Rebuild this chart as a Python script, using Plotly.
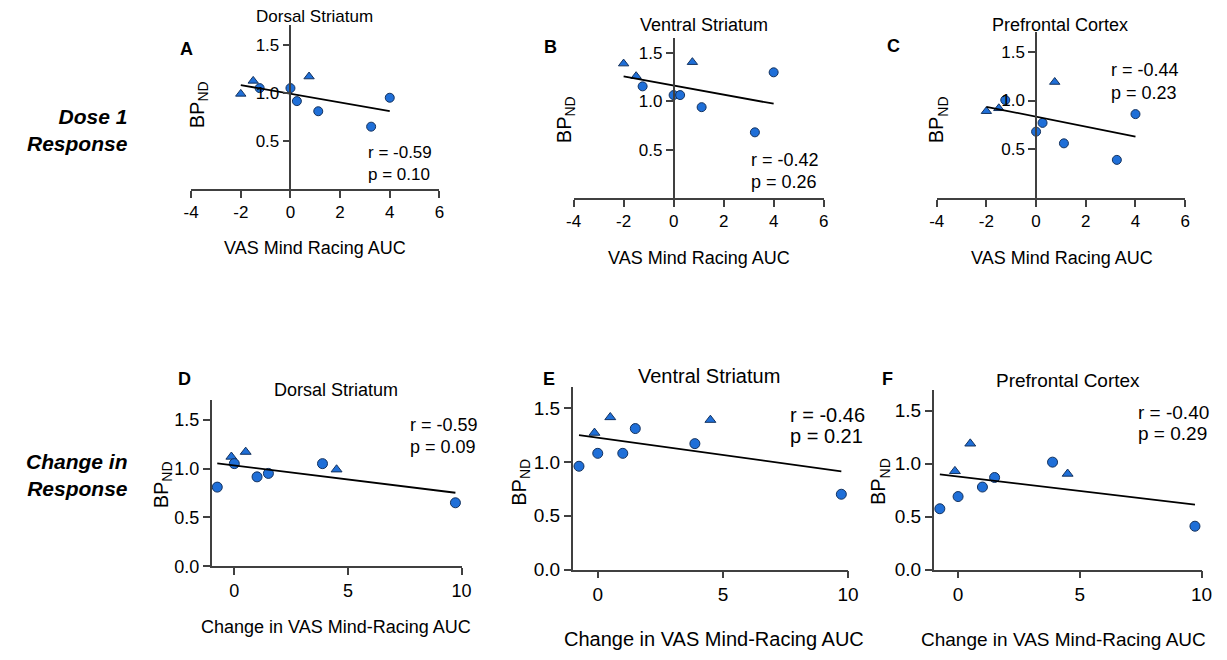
import numpy as np
import plotly.graph_objects as go

FONT = "Liberation Sans, Arial, Helvetica, sans-serif"
W, H = 1227, 660

# ---------------- data ----------------
# Top row: Dose 1 response (x = VAS Mind Racing AUC)
x_dose1 = [-2.0, -1.5, -1.24, 0.0, 0.26, 0.75, 1.12, 3.25, 4.0]
sym_dose1 = ["triangle-up", "triangle-up", "circle", "circle", "circle",
             "triangle-up", "circle", "circle", "circle"]
bp_dorsal_dose1 = [0.99, 1.125, 1.05, 1.05, 0.915, 1.17, 0.81, 0.65, 0.95]
bp_ventral_dose1 = [1.39, 1.26, 1.155, 1.065, 1.065, 1.405, 0.94, 0.68, 1.30]
bp_pfc_dose1 = [0.89, 0.92, 1.005, 0.68, 0.77, 1.19, 0.56, 0.39, 0.86]

# Bottom row: change in response (x = Change in VAS Mind-Racing AUC)
x_change = [-0.75, -0.13, 0.0, 0.5, 1.0, 1.5, 3.88, 4.5, 9.73]
sym_change = ["circle", "triangle-up", "circle", "triangle-up", "circle",
              "circle", "circle", "triangle-up", "circle"]
bp_dorsal_change = [0.81, 1.12, 1.05, 1.17, 0.915, 0.95, 1.05, 0.99, 0.65]
bp_ventral_change = [0.96, 1.27, 1.08, 1.415, 1.08, 1.31, 1.17, 1.39, 0.70]
bp_pfc_change = [0.575, 0.93, 0.69, 1.19, 0.78, 0.87, 1.015, 0.905, 0.41]

region_titles = ["Dorsal Striatum", "Ventral Striatum", "Prefrontal Cortex"]
panel_letters = ["A", "B", "C", "D", "E", "F"]
stats_r = ["r = -0.59", "r = -0.42", "r = -0.44", "r = -0.59", "r = -0.46", "r = -0.40"]
stats_p = ["p = 0.10", "p = 0.26", "p = 0.23", "p = 0.09", "p = 0.21", "p = 0.29"]
top_xticks = [-4, -2, 0, 2, 4, 6]
top_xticktext = ["-4", "-2", "0", "2", "4", "6"]
bot_xticks = [0, 5, 10]
top_yticks = [0.5, 1.0, 1.5]
bot_yticks = [0.0, 0.5, 1.0, 1.5]
xtitle_top = "VAS Mind Racing AUC"
xtitle_bot = "Change in VAS Mind-Racing AUC"
row_labels = ["Dose 1<br>Response", "Change in<br>Response"]

# ---------------- layout geometry (pixels) ----------------
panels = [
    dict(xl=186, xr=438.2, yb=192.5, yt=25.9, xr_=[-4, 6], yr_=[0, 1.7]),
    dict(xl=574.5, xr=828.5, yb=201.5, yt=39.1, xr_=[-4, 6], yr_=[0, 1.65]),
    dict(xl=943.3, xr=1195.7, yb=201.2, yt=32.9, xr_=[-4, 6], yr_=[0, 1.7]),
    dict(xl=206.8, xr=460.7, yb=576, yt=406.8, xr_=[-1, 10], yr_=[0, 1.7]),
    dict(xl=573.6, xr=853.3, yb=579.3, yt=393.1, xr_=[-1, 10], yr_=[0, 1.7]),
    dict(xl=940.3, xr=1212.3, yb=579.3, yt=396.2, xr_=[-1, 10], yr_=[0, 1.7]),
]
tick_fs = [17, 17, 17, 18, 19, 19]
title_fs = [17, 18, 18, 18, 20, 19]
stat_fs = [17, 18, 18, 18, 20, 19]
xt_fs = [18, 18, 18, 18, 20, 19]
title_pos = [(311.7, 17), (707, 25), (1069, 25), (333, 397), (712, 382), (1077, 387)]
letter_pos = [(181, 50), (551.5, 48), (899, 47), (179, 385), (550, 385), (893.5, 385)]
xtitle_pos = [(311.7, 252), (701.7, 262), (1070.5, 262), (333, 638), (717.5, 650), (1072.5, 650)]
ytitle_pos = [(193, 107), (567, 122), (945, 122), (157, 493), (521, 490), (886, 490)]
stat_pos = [(3.05, 0.38, 0.15), (3.02, 0.39, 0.17), (2.94, 1.31, 1.08),
            (7.66, 1.44, 1.22), (7.58, 1.44, 1.24), (7.32, 1.486, 1.284)]

series = [
    (x_dose1, bp_dorsal_dose1, sym_dose1),
    (x_dose1, bp_ventral_dose1, sym_dose1),
    (x_dose1, bp_pfc_dose1, sym_dose1),
    (x_change, bp_dorsal_change, sym_change),
    (x_change, bp_ventral_change, sym_change),
    (x_change, bp_pfc_change, sym_change),
]

FILL = "#1f6fd8"
EDGE = "#14325e"
AXC = "#404040"

fig = go.Figure()
annotations = []
layout = dict(width=W, height=H, margin=dict(l=0, r=0, t=0, b=0),
              paper_bgcolor="white", plot_bgcolor="white",
              showlegend=False, font=dict(family=FONT, color="black"))


def px(x):
    return x / W


def py(y):
    return 1 - y / H


for i, (p, (xs, ys, syms)) in enumerate(zip(panels, series)):
    n = i + 1
    xa = "x" if n == 1 else f"x{n}"
    ya = "y" if n == 1 else f"y{n}"
    top = i < 3
    sizes = [(9 if s == "circle" else 9) if top else (10 if s == "circle" else 9.5) for s in syms]
    fig.add_trace(go.Scatter(
        x=xs, y=ys, mode="markers", xaxis=xa, yaxis=ya,
        marker=dict(symbol=syms, size=sizes, color=FILL, opacity=1,
                    line=dict(color=EDGE, width=1)),
        hoverinfo="x+y"))
    # linear regression line across observed range
    slope, intercept = np.polyfit(xs, ys, 1)
    fx = np.array([min(xs), max(xs)])
    fig.add_trace(go.Scatter(
        x=fx, y=slope * fx + intercept, mode="lines", xaxis=xa, yaxis=ya,
        line=dict(color="black", width=1.8), hoverinfo="skip"))

    xd = [px(p["xl"]), px(p["xr"])]
    yd = [py(p["yb"]), py(p["yt"])]
    xkey = "xaxis" if n == 1 else f"xaxis{n}"
    ykey = "yaxis" if n == 1 else f"yaxis{n}"
    layout[xkey] = dict(
        domain=xd, range=p["xr_"], anchor=ya, showline=True, linecolor=AXC,
        linewidth=1.5, ticks="outside", ticklen=7, tickwidth=1.5, tickcolor=AXC,
        tickvals=top_xticks if top else bot_xticks,
        ticktext=top_xticktext if top else [str(v) for v in bot_xticks],
        tickfont=dict(size=tick_fs[i], family=FONT, color="black"),
        showgrid=False, zeroline=False, fixedrange=True)
    ydict = dict(
        domain=yd, range=p["yr_"], showline=True, linecolor=AXC,
        linewidth=1.5, ticks="outside", ticklen=7, tickwidth=1.5, tickcolor=AXC,
        tickvals=top_yticks if top else bot_yticks,
        ticktext=[f"{v:.1f}" for v in (top_yticks if top else bot_yticks)],
        tickfont=dict(size=tick_fs[i], family=FONT, color="black"),
        showgrid=False, zeroline=False, fixedrange=True)
    if top:
        x0frac = (0 - p["xr_"][0]) / (p["xr_"][1] - p["xr_"][0])
        ydict.update(anchor="free", position=xd[0] + x0frac * (xd[1] - xd[0]))
    else:
        ydict.update(anchor=xa)
    layout[ykey] = ydict

    tx, ty = title_pos[i]
    annotations.append(dict(text=region_titles[i % 3], x=px(tx), y=py(ty),
                            xref="paper", yref="paper", showarrow=False,
                            xanchor="center", yanchor="middle",
                            font=dict(size=title_fs[i], family=FONT)))
    lx, ly = letter_pos[i]
    annotations.append(dict(text=f"<b>{panel_letters[i]}</b>", x=px(lx), y=py(ly),
                            xref="paper", yref="paper", showarrow=False,
                            xanchor="center", yanchor="middle",
                            font=dict(size=18, family=FONT)))
    gx, gy = xtitle_pos[i]
    annotations.append(dict(text=xtitle_top if top else xtitle_bot, x=px(gx), y=py(gy),
                            xref="paper", yref="paper", showarrow=False,
                            xanchor="center", yanchor="middle",
                            font=dict(size=xt_fs[i], family=FONT)))
    hx, hy = ytitle_pos[i]
    annotations.append(dict(text="BP<sub>ND</sub>", x=px(hx), y=py(hy),
                            xref="paper", yref="paper", showarrow=False,
                            textangle=-90, xanchor="center", yanchor="middle",
                            font=dict(size=20, family=FONT)))
    sx, sry, spy = stat_pos[i]
    annotations.append(dict(text=stats_r[i], x=sx, y=sry, xref=xa, yref=ya,
                            showarrow=False, xanchor="left", yanchor="middle",
                            font=dict(size=stat_fs[i], family=FONT)))
    annotations.append(dict(text=stats_p[i], x=sx, y=spy, xref=xa, yref=ya,
                            showarrow=False, xanchor="left", yanchor="middle",
                            font=dict(size=stat_fs[i], family=FONT)))

annotations.append(dict(text=f"<b><i>{row_labels[0]}</i></b>", x=px(124), y=py(132),
                        xref="paper", yref="paper", showarrow=False,
                        xanchor="right", yanchor="middle", align="right",
                        font=dict(size=21, family=FONT)))
annotations.append(dict(text=f"<b><i>{row_labels[1]}</i></b>", x=px(124), y=py(483),
                        xref="paper", yref="paper", showarrow=False,
                        xanchor="right", yanchor="middle", align="right",
                        font=dict(size=21, family=FONT)))

layout["annotations"] = annotations
fig.update_layout(**layout)
fig.write_html("out.html")
